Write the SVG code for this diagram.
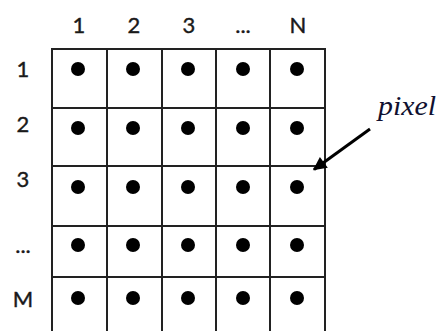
<svg xmlns="http://www.w3.org/2000/svg" width="438" height="331" viewBox="0 0 438 331">
<defs>
<style>
.lbl{font-family:Lato,"Liberation Sans",sans-serif;font-size:22px;fill:#1a1a1a;stroke:#1a1a1a;stroke-width:0.4;text-anchor:middle}
.grid{stroke:#222;stroke-width:2;fill:none}
.dot{fill:#000}
.conn{stroke:#000;stroke-width:3;fill:none}
</style>
<marker id="ah" viewBox="0 0 10 10" refX="9" refY="5" markerWidth="5" markerHeight="4.5" orient="auto" markerUnits="strokeWidth">
<path d="M0,0 L10,5 L0,10 z" fill="#000"/>
</marker>
</defs>
<rect width="438" height="331" fill="#fff"/>
<g id="grid" class="grid">
<path d="M52,333 V49 H325 V333"/>
<path d="M107,49 V333 M162,49 V333 M216,49 V333 M270,49 V333"/>
<path d="M52,108 H325 M52,166 H325 M52,226 H325 M52,277 H325"/>
</g>
<g id="col-labels" class="lbl">
<text x="79" y="33">1</text>
<text x="134" y="33">2</text>
<text x="189" y="33">3</text>
<text x="243" y="33">...</text>
<text x="298" y="33">N</text>
</g>
<g id="row-labels" class="lbl">
<text x="23" y="77">1</text>
<text x="23" y="132">2</text>
<text x="23" y="187">3</text>
<text x="23" y="253">...</text>
<text x="23" y="307">M</text>
</g>
<g id="pixels" class="dot">
<circle cx="78" cy="69" r="7"/><circle cx="133" cy="69" r="7"/><circle cx="188" cy="69" r="7"/><circle cx="243" cy="69" r="7"/><circle cx="297" cy="69" r="7"/>
<circle cx="78" cy="128" r="7"/><circle cx="133" cy="128" r="7"/><circle cx="188" cy="128" r="7"/><circle cx="243" cy="128" r="7"/><circle cx="297" cy="128" r="7"/>
<circle cx="78" cy="187" r="7"/><circle cx="133" cy="187" r="7"/><circle cx="188" cy="187" r="7"/><circle cx="243" cy="187" r="7"/><circle cx="297" cy="187" r="7"/>
<circle cx="78" cy="245" r="7"/><circle cx="133" cy="245" r="7"/><circle cx="188" cy="245" r="7"/><circle cx="243" cy="245" r="7"/><circle cx="297" cy="245" r="7"/>
<circle cx="78" cy="298" r="7"/><circle cx="133" cy="298" r="7"/><circle cx="188" cy="298" r="7"/><circle cx="243" cy="298" r="7"/><circle cx="297" cy="298" r="7"/>
</g>
<g id="pixel-label">
<text x="378" y="115" font-family="'Liberation Serif',serif" font-style="italic" font-size="28" fill="#101030" textLength="58" lengthAdjust="spacingAndGlyphs">pixel</text>
</g>
<g id="connectors">
<line class="conn" x1="370" y1="129" x2="314" y2="169.5" marker-end="url(#ah)"/>
</g>
</svg>
